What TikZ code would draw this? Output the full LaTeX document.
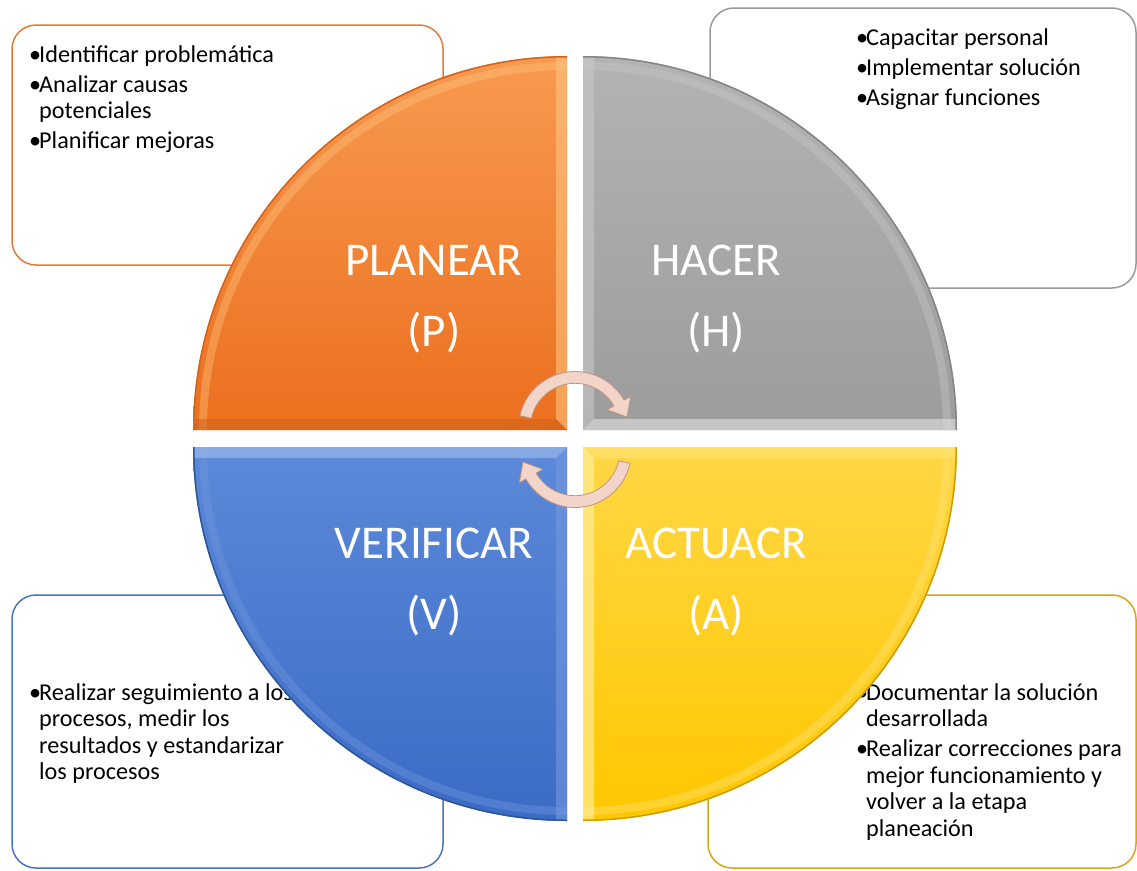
\documentclass[tikz,border=0pt]{standalone}
\usepackage{fontspec}
\setmainfont{Carlito}
\usetikzlibrary{calc}
\definecolor{orT}{HTML}{F89A50}
\definecolor{orB}{HTML}{EB6F1E}
\definecolor{orLight}{HTML}{FCC47E}
\definecolor{orDark}{HTML}{D2641E}
\definecolor{orEdge}{HTML}{E27B35}
\definecolor{grT}{HTML}{B3B3B3}
\definecolor{grB}{HTML}{9C9C9C}
\definecolor{grLight}{HTML}{C8C8C8}
\definecolor{grBand}{HTML}{E2E2E2}
\definecolor{grDark}{HTML}{858585}
\definecolor{grEdge}{HTML}{9A9A9A}
\definecolor{blT}{HTML}{5C89D8}
\definecolor{blB}{HTML}{3B6BC6}
\definecolor{blLight}{HTML}{A3BEEC}
\definecolor{blSide}{HTML}{7398DF}
\definecolor{blDark}{HTML}{2E5596}
\definecolor{blEdge}{HTML}{4A74C0}
\definecolor{yeT}{HTML}{FFD745}
\definecolor{yeB}{HTML}{FFC700}
\definecolor{yeLight}{HTML}{FFF2A6}
\definecolor{yeBand}{HTML}{FFE37A}
\definecolor{yeDark}{HTML}{CC9C00}
\definecolor{yeEdge}{HTML}{D9A514}
\definecolor{arFill}{HTML}{F2D4C9}
\definecolor{arEdge}{HTML}{BE9483}
\newcommand\bitem[1]{\hbox{\makebox[10pt][l]{•}#1}}
\newcommand\bcont[1]{\hbox{\hspace*{10pt}#1}}
\newcommand\bgap{\vskip 3.5pt}
\newcommand\twolines[2]{\vtop{\hbox to 0pt{\hss #1\hss}\hbox to 0pt{\hss #2\hss}}}
\tikzset{
  pbox/.style={rounded corners=24pt, line width=1.5pt, fill=white},
  txt/.style={inner sep=0pt, anchor=base west, text=black, font=\fontsize{24.2}{26.5}\selectfont},
  biglabel/.style={inner sep=0pt, anchor=base, text=white, font=\fontsize{47}{71}\selectfont},
  arrowshape/.style={fill=arFill, draw=arEdge, line width=0.8pt, line join=round},
  band/.style={opacity=0.6}
}
\begin{document}
\begin{tikzpicture}[x=1pt,y=-1pt]
\useasboundingbox (0,0) rectangle (1137,870);
\fill[white] (0,0) rectangle (1137,870);
% side boxes
\draw[pbox, draw=orEdge] (12,25) rectangle (443,265);
\draw[pbox, draw=grEdge] (710,8) rectangle (1136,288);
\draw[pbox, draw=blEdge] (12,595) rectangle (443,868);
\draw[pbox, draw=yeEdge] (708,595) rectangle (1136,868);
% box texts
\node[txt] (tPlan) at (29,62) {\vtop{\bitem{Identificar problemática}\bgap\bitem{Analizar causas}\bcont{potenciales}\bgap\bitem{Planificar mejoras}}};
\node[txt] (tHacer) at (856,45) {\vtop{\bitem{Capacitar personal}\bgap\bitem{Implementar solución}\bgap\bitem{Asignar funciones}}};
\node[txt] (tVer) at (29,700) {\vtop{\bitem{Realizar seguimiento a los}\bcont{procesos, medir los}\bcont{resultados y estandarizar}\bcont{los procesos}}};
\node[txt] (tAct) at (856,700) {\vtop{\bitem{Documentar la solución}\bcont{desarrollada}\bgap\bitem{Realizar correcciones para}\bcont{mejor funcionamiento y}\bcont{volver a la etapa}\bcont{planeación}}};
% ---- quadrant P (orange)
\shade[top color=orT, bottom color=orB] (567,430) -- (193,430) arc[start angle=180,end angle=270,radius=374] -- cycle;
\begin{scope}
\clip (567,430) -- (193,430) arc[start angle=180,end angle=270,radius=374] -- cycle;
\draw[orLight, line width=8pt, opacity=0.4] (203,430) arc[start angle=180,end angle=270,radius=364];
\fill[orLight, band] (556,40) -- (567,40) -- (567,430) -- (556,419) -- cycle;
\fill[orDark, band] (180,419) -- (556,419) -- (567,430) -- (180,430) -- cycle;
\draw[orDark, line width=3pt] (193,430) arc[start angle=180,end angle=270,radius=374];
\end{scope}
% ---- quadrant H (gray)
\shade[top color=grT, bottom color=grB] (583,430) -- (583,56) arc[start angle=270,end angle=360,radius=374] -- cycle;
\begin{scope}
\clip (583,430) -- (583,56) arc[start angle=270,end angle=360,radius=374] -- cycle;
\draw[grLight, line width=8pt, opacity=0.4] (583,66) arc[start angle=270,end angle=360,radius=364];
\fill[grLight, band] (583,40) -- (594,40) -- (594,419) -- (583,430) -- cycle;
\fill[grBand, band] (594,419) -- (970,419) -- (970,430) -- (583,430) -- cycle;
\draw[grDark, line width=3pt] (583,56) arc[start angle=270,end angle=360,radius=374];
\end{scope}
% ---- quadrant V (blue)
\shade[top color=blT, bottom color=blB] (567,447) -- (567,821) arc[start angle=90,end angle=180,radius=374] -- cycle;
\begin{scope}
\clip (567,447) -- (567,821) arc[start angle=90,end angle=180,radius=374] -- cycle;
\draw[blSide, line width=8pt, opacity=0.4] (567,811) arc[start angle=90,end angle=180,radius=364];
\fill[blLight, band] (180,447) -- (567,447) -- (556,458) -- (180,458) -- cycle;
\fill[blSide, band] (556,458) -- (567,447) -- (567,835) -- (556,835) -- cycle;
\draw[blDark, line width=3pt] (567,821) arc[start angle=90,end angle=180,radius=374];
\end{scope}
% ---- quadrant A (yellow)
\shade[top color=yeT, bottom color=yeB] (583,447) -- (957,447) arc[start angle=0,end angle=90,radius=374] -- cycle;
\begin{scope}
\clip (583,447) -- (957,447) arc[start angle=0,end angle=90,radius=374] -- cycle;
\draw[yeBand, line width=8pt, opacity=0.4] (947,447) arc[start angle=0,end angle=90,radius=364];
\fill[yeLight, band] (583,447) -- (594,458) -- (594,835) -- (583,835) -- cycle;
\fill[yeBand, band] (583,447) -- (970,447) -- (970,458) -- (594,458) -- cycle;
\draw[yeDark, line width=3pt] (957,447) arc[start angle=0,end angle=90,radius=374];
\end{scope}
% big labels
\node[biglabel] (lP) at (434,275) {\twolines{PLANEAR}{(P)}};
\node[biglabel] (lH) at (716,275) {\twolines{HACER}{(H)}};
\node[biglabel] (lV) at (434,558) {\twolines{VERIFICAR}{(V)}};
\node[biglabel] (lA) at (716,558) {\twolines{ACTUACR}{(A)}};
% circular arrows
\begin{scope}[shift={(575,428)}]
\filldraw[arrowshape] (192.6:56.5) arc[start angle=192.6,end angle=330.4,radius=56.5] -- (330.4:64) -- (52,-11) -- (330.4:37) -- (330.4:44.7) arc[start angle=330.4,end angle=192.6,radius=44.7] -- cycle;
\end{scope}
\begin{scope}[shift={(575,451)}, rotate=180]
\filldraw[arrowshape] (192.6:56.5) arc[start angle=192.6,end angle=330.4,radius=56.5] -- (330.4:64) -- (52,-11) -- (330.4:37) -- (330.4:44.7) arc[start angle=330.4,end angle=192.6,radius=44.7] -- cycle;
\end{scope}
\end{tikzpicture}
\end{document}
